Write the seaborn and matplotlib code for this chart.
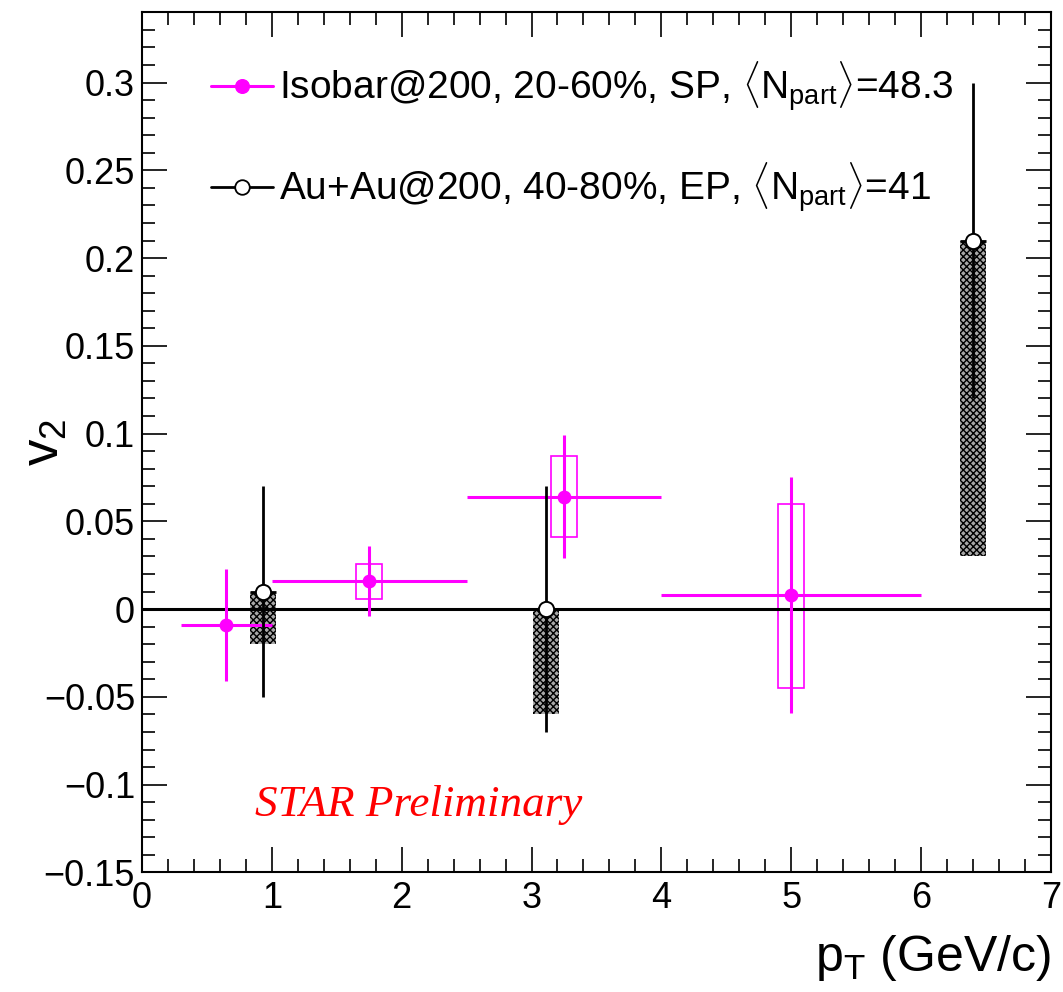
import numpy as np
import pandas as pd
import matplotlib
matplotlib.use("Agg")
import matplotlib.pyplot as plt
from matplotlib.lines import Line2D
from matplotlib.ticker import MultipleLocator
import seaborn as sns

# Isobar@200, 20-60%, SP
iso_pt = [0.65, 1.75, 3.25, 5.0]
iso_pt_lo = [0.3, 1.0, 2.5, 4.0]
iso_pt_hi = [1.0, 2.5, 4.0, 6.0]
iso_v2 = [-0.009, 0.016, 0.064, 0.008]
iso_stat = [0.032, 0.020, 0.035, 0.067]
iso_sys_lo = [0.0, 0.010, 0.023, 0.053]
iso_sys_hi = [0.0, 0.010, 0.023, 0.052]

# Au+Au@200, 40-80%, EP
au_pt = [0.93, 3.11, 6.40]
au_v2 = [0.01, 0.0, 0.21]
au_stat = [0.06, 0.07, 0.09]
au_sys_lo = [0.03, 0.06, 0.18]
au_sys_hi = [0.0, 0.0, 0.0]

sys_width = 0.2

iso_df = pd.DataFrame({"pt": iso_pt, "v2": iso_v2})
au_df = pd.DataFrame({"pt": au_pt, "v2": au_v2})

sns.set_theme(style="ticks")
plt.rcParams["font.family"] = ["Liberation Sans", "DejaVu Sans"]
plt.rcParams["mathtext.fontset"] = "custom"
plt.rcParams["mathtext.rm"] = "Liberation Sans"
plt.rcParams["mathtext.it"] = "Liberation Sans:italic"
plt.rcParams["mathtext.bf"] = "Liberation Sans:bold"
plt.rcParams["hatch.linewidth"] = 1.0
plt.rcParams["text.color"] = "black"
plt.rcParams["axes.labelcolor"] = "black"
plt.rcParams["xtick.color"] = "black"
plt.rcParams["ytick.color"] = "black"

MAG = "#ff00ff"

fig = plt.figure(figsize=(10.63, 9.92), dpi=100)
ax = fig.add_axes([0.1336, 0.1205, 0.855, 0.8671])

# Au+Au systematic boxes (checkered shading)
au_pt_a = np.array(au_pt)
au_v2_a = np.array(au_v2)
ax.bar(au_pt_a, np.array(au_sys_lo) + np.array(au_sys_hi),
       bottom=au_v2_a - np.array(au_sys_lo), width=sys_width,
       facecolor="#a8a8a8", edgecolor="black", hatch="xxxxx", linewidth=0,
       zorder=2)

# Isobar systematic boxes (open)
iso_pt_a = np.array(iso_pt)
iso_v2_a = np.array(iso_v2)
ax.bar(iso_pt_a, np.array(iso_sys_lo) + np.array(iso_sys_hi),
       bottom=iso_v2_a - np.array(iso_sys_lo), width=sys_width,
       facecolor="none", edgecolor=MAG, linewidth=1.2, zorder=3)

# zero line
ax.axhline(0.0, color="black", lw=2.2, zorder=3)

# statistical error bars
ax.errorbar(iso_pt_a, iso_v2_a,
            xerr=[iso_pt_a - np.array(iso_pt_lo), np.array(iso_pt_hi) - iso_pt_a],
            yerr=iso_stat, fmt="none", ecolor=MAG, elinewidth=2.2,
            capsize=0, zorder=4)
ax.errorbar(au_pt_a, au_v2_a, xerr=sys_width / 2, yerr=au_stat, fmt="none",
            ecolor="black", elinewidth=2.0, capsize=0, zorder=4)

# markers
sns.scatterplot(data=iso_df, x="pt", y="v2", ax=ax, color=MAG, s=100,
                edgecolor=MAG, linewidth=0, zorder=5, legend=False)
sns.scatterplot(data=au_df, x="pt", y="v2", ax=ax, color="white", s=120,
                edgecolor="black", linewidth=1.4, zorder=5, legend=False)

# axes
ax.set_xlim(0, 7)
ax.set_ylim(-0.15, 0.34)
ax.xaxis.set_major_locator(MultipleLocator(1))
ax.xaxis.set_minor_locator(MultipleLocator(0.2))
ax.yaxis.set_major_locator(MultipleLocator(0.05))
ax.yaxis.set_minor_locator(MultipleLocator(0.01))
ax.yaxis.set_major_formatter(plt.FuncFormatter(
    lambda v, p: ("%g" % round(v, 3)).replace("-", "\u2212")))
ax.tick_params(which="both", direction="in", top=True, right=True,
               color="black", labelcolor="black", width=1.2, labelsize=26)
ax.tick_params(which="major", length=18)
ax.tick_params(which="minor", length=9.5)
ax.tick_params(axis="x", pad=6)
ax.tick_params(axis="y", pad=5)
for sp in ax.spines.values():
    sp.set_color("black")
    sp.set_linewidth(1.5)

ax.set_xlabel(r"$\mathrm{p}_{\mathrm{T}}$ (GeV/c)", fontsize=36, loc="right",
              color="black")
ax.xaxis.set_label_coords(1.0, -0.07)
ax.set_ylabel(r"$\mathrm{v}_{2}$", fontsize=38, color="black")
ax.yaxis.set_label_coords(-0.08, 0.5)

handles = [
    Line2D([], [], color=MAG, lw=2.2, marker="o", markersize=9.8,
           markerfacecolor=MAG, markeredgecolor=MAG),
    Line2D([], [], color="black", lw=2.0, marker="o", markersize=10.5,
           markerfacecolor="white", markeredgecolor="black", markeredgewidth=1.3),
]
labels = [
    r"Isobar@200, 20-60%, SP, $\langle\mathrm{N}_{\mathrm{part}}\rangle$=48.3",
    r"Au+Au@200, 40-80%, EP, $\langle\mathrm{N}_{\mathrm{part}}\rangle$=41",
]
leg = ax.legend(handles, labels, loc="upper left", bbox_to_anchor=(0.059, 0.963),
                frameon=False, fontsize=28, handlelength=1.6, handletextpad=0.15,
                labelspacing=1.2, borderaxespad=0)
for t in leg.get_texts():
    t.set_color("black")

ax.text(0.124, 0.066, "STAR Preliminary", transform=ax.transAxes,
        color="red", fontsize=32.5, fontstyle="italic",
        family=["Liberation Serif", "DejaVu Serif"], ha="left", va="baseline")

fig.savefig("out.png", dpi=100, facecolor="white")
